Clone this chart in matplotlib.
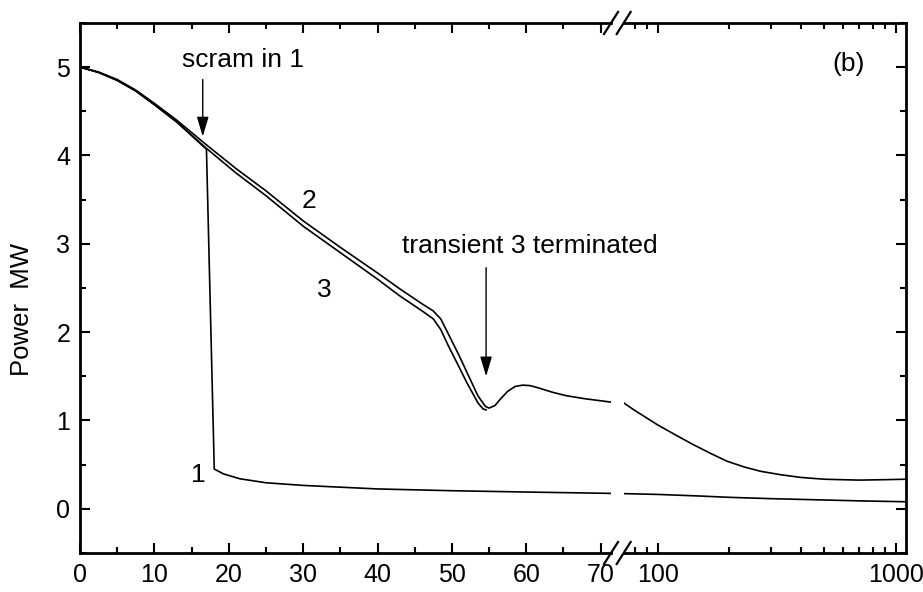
import matplotlib
matplotlib.use("Agg")
import matplotlib.pyplot as plt
import matplotlib.ticker as mticker
import numpy as np

plt.rcParams['font.family'] = ['Liberation Sans', 'DejaVu Sans']

# --- Data (time in s, power in MW) ---
# transient 2: full run, goes on into the long-time (log) range
t2 = [0, 2.5, 5, 7.5, 10, 13, 17, 21, 25, 30, 35, 40, 43, 46, 47.5, 48.5, 49.7,
      51, 52, 53.5, 54.5, 55, 55.8, 56.5, 57.5, 58.5, 59.5, 60.5, 61.8, 63.5,
      65.4, 68, 71.2,
      72, 80, 100, 120, 141, 166, 195, 230, 270, 330, 400, 500, 700, 900, 1100]
p2 = [5.0, 4.945, 4.86, 4.74, 4.59, 4.40, 4.12, 3.85, 3.60, 3.26, 2.96, 2.67,
      2.49, 2.32, 2.24, 2.15, 1.95, 1.73, 1.55, 1.28, 1.16, 1.14, 1.17, 1.24,
      1.33, 1.385, 1.40, 1.395, 1.365, 1.32, 1.28, 1.245, 1.21,
      1.20, 1.115, 0.95, 0.83, 0.727, 0.63, 0.54, 0.475, 0.425, 0.385, 0.355,
      0.335, 0.325, 0.33, 0.335]

# transient 3: stopped at the power minimum
t3 = [0, 2.5, 5, 7.5, 10, 13, 17, 21, 25, 30, 35, 40, 43, 46, 47.5, 48.5, 49.5,
      51, 52, 53.5, 54.2, 54.6]
p3 = [5.0, 4.94, 4.85, 4.73, 4.575, 4.38, 4.08, 3.80, 3.545, 3.20, 2.90, 2.60,
      2.41, 2.24, 2.15, 2.03, 1.85, 1.60, 1.43, 1.20, 1.13, 1.12]

# transient 1: scram at ~17 s
t1 = [0, 2.5, 5, 7.5, 10, 13, 17.0, 18.05, 19.3, 21.5, 25, 30, 40, 50, 60, 71.2,
      72, 100, 150, 200, 300, 500, 700, 1100]
p1 = [5.0, 4.94, 4.85, 4.73, 4.575, 4.38, 4.07, 0.45, 0.395, 0.34, 0.295, 0.265,
      0.225, 0.205, 0.19, 0.175,
      0.172, 0.163, 0.145, 0.13, 0.115, 0.10, 0.09, 0.08]

lin_ticks = [0, 10, 20, 30, 40, 50, 60, 70]
log_ticks = [100, 1000]
log_minor = [80, 90, 200, 300, 400, 500, 600, 700, 800, 900]

# --- Figure with a broken x axis: linear part + log part ---
fig = plt.figure(figsize=(9.23, 5.92), dpi=100)
bottom, height = 0.0659, 0.8953
ax = fig.add_axes([0.0867, bottom, 0.5753, height])
ax2 = fig.add_axes([0.6757, bottom, 0.3057, height], sharey=ax)
ax2.patch.set_visible(False)

lw = 1.2
for a in (ax, ax2):
    a.plot(t1, p1, color='k', lw=lw)
    a.plot(t2, p2, color='k', lw=lw)
ax.plot(t3, p3, color='k', lw=lw)

ax.set_xlim(0, 71.4)
ax.set_ylim(-0.5, 5.5)
ax2.set_xscale('log')
ax2.set_xlim(72, 1100)

ax.set_xticks(lin_ticks)
ax.xaxis.set_minor_locator(mticker.MultipleLocator(5))
ax.yaxis.set_major_locator(mticker.MultipleLocator(1))
ax.yaxis.set_minor_locator(mticker.MultipleLocator(0.5))

ax2.xaxis.set_major_locator(mticker.FixedLocator(log_ticks))
ax2.xaxis.set_major_formatter(mticker.FixedFormatter([str(v) for v in log_ticks]))
ax2.xaxis.set_minor_locator(mticker.FixedLocator(log_minor))
ax2.xaxis.set_minor_formatter(mticker.NullFormatter())

tick_font = ['Liberation Sans Narrow', 'Liberation Sans', 'DejaVu Sans']
for a in (ax, ax2):
    for s in a.spines.values():
        s.set_linewidth(2.0)
    a.tick_params(which='both', direction='in', top=True, width=1.5)
    a.tick_params(which='major', length=7.5, pad=7)
    a.tick_params(which='minor', length=4)
    for lab in a.get_xticklabels() + a.get_yticklabels():
        lab.set_family(tick_font)
        lab.set_fontsize(18)

ax.spines['right'].set_visible(False)
ax2.spines['left'].set_visible(False)
ax.tick_params(axis='y', which='both', right=False)
ax2.tick_params(axis='y', which='both', left=False, right=True,
                labelleft=False, labelright=False)

# break marks
kw = dict(color='k', lw=1.6, clip_on=False)
dx, dy = 0.0132, 0.0208
ax.plot([1 - dx, 1 + dx], [-dy, dy], transform=ax.transAxes, **kw)
ax.plot([1 - dx, 1 + dx], [1 - dy, 1 + dy], transform=ax.transAxes, **kw)
dx2 = 0.0247
ax2.plot([-dx2, dx2], [-dy, dy], transform=ax2.transAxes, **kw)
ax2.plot([-dx2, dx2], [1 - dy, 1 + dy], transform=ax2.transAxes, **kw)

# labels and annotations
ax.set_ylabel('Power  MW', fontsize=18.5)
ax.yaxis.set_label_coords(-0.086, 0.46)

fs = 19
arrow = dict(arrowstyle='-|>,head_length=0.6,head_width=0.18', color='k',
             lw=1.0, mutation_scale=20, shrinkA=0, shrinkB=0)
ax.text(13.7, 5.0, 'scram in 1', fontsize=fs, ha='left', va='baseline')
ax.annotate('', xy=(16.5, 4.215), xytext=(16.5, 4.86), arrowprops=arrow)
ax.text(43.3, 2.90, 'transient 3 terminated', fontsize=fs, ha='left',
        va='baseline')
ax.annotate('', xy=(54.6, 1.50), xytext=(54.6, 2.73), arrowprops=arrow)

ax.text(30.8, 3.49, '2', fontsize=fs, ha='center', va='center')
ax.text(32.8, 2.48, '3', fontsize=fs, ha='center', va='center')
ax.text(15.9, 0.38, '1', fontsize=fs, ha='center', va='center')
ax2.text(630, 5.04, '(b)', fontsize=fs, ha='center', va='center')

fig.savefig('out.png', dpi=100)
